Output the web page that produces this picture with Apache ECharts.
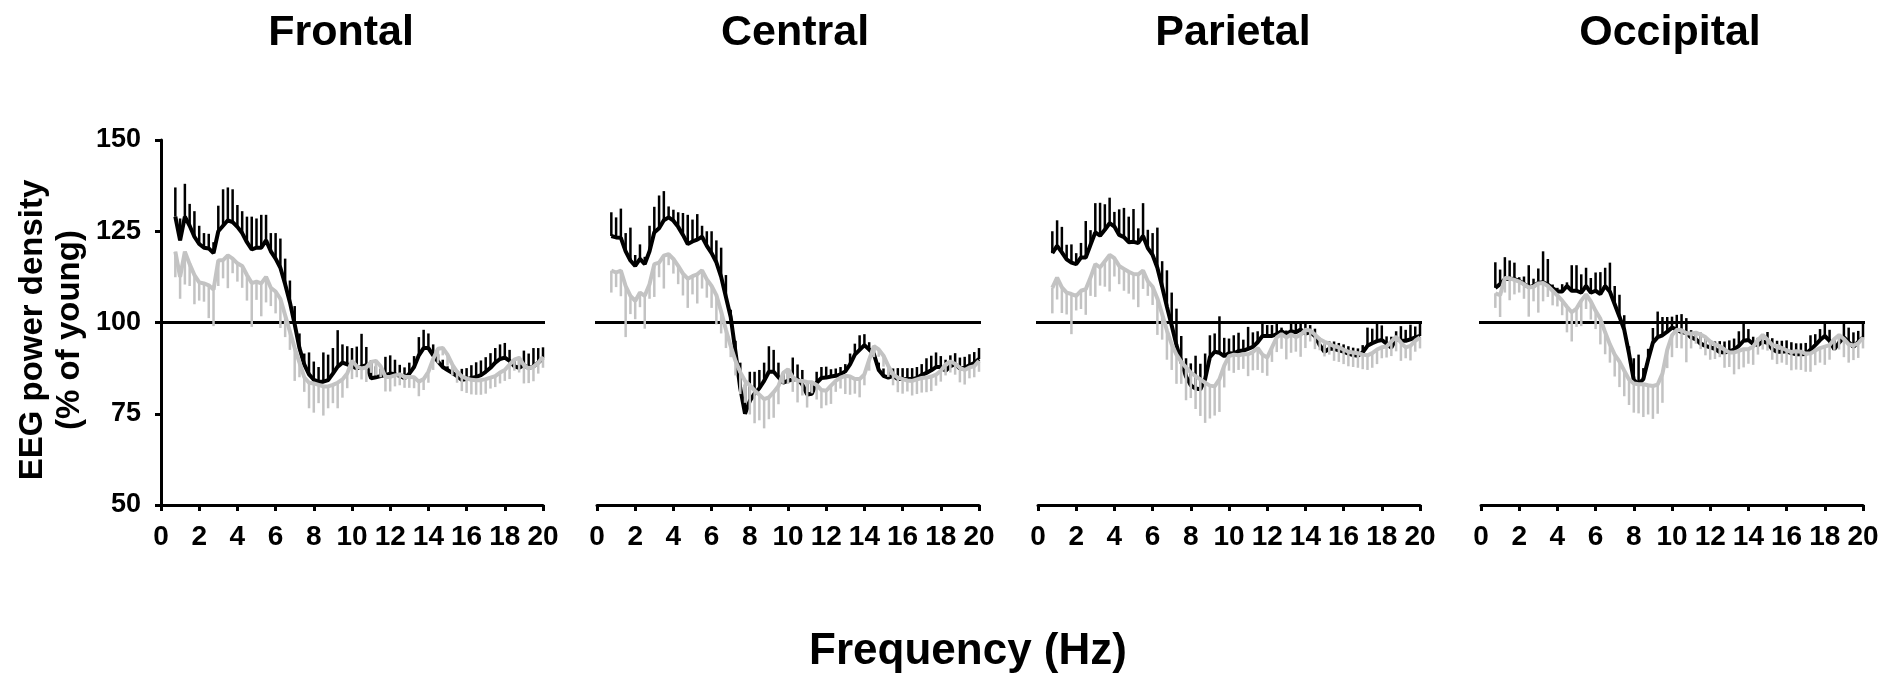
<!DOCTYPE html>
<html>
<head>
<meta charset="utf-8">
<script src="https://cdn.jsdelivr.net/npm/echarts@6.0.0/dist/echarts.min.js"></script>
<style>
html,body{margin:0;padding:0;background:#fff;}
#chart{width:1899px;height:673px;}
</style>
</head>
<body>
<div id="chart"></div>
<script>
// ---------------- DATA ----------------
const freqs = [0.75,
 1,1.25,1.5,1.75, 2,2.25,2.5,2.75, 3,3.25,3.5,3.75, 4,4.25,4.5,4.75,
 5,5.25,5.5,5.75, 6,6.25,6.5,6.75, 7,7.25,7.5,7.75, 8,8.25,8.5,8.75,
 9,9.25,9.5,9.75, 10,10.25,10.5,10.75, 11,11.25,11.5,11.75, 12,12.25,12.5,12.75,
 13,13.25,13.5,13.75, 14,14.25,14.5,14.75, 15,15.25,15.5,15.75, 16,16.25,16.5,16.75,
 17,17.25,17.5,17.75, 18,18.25,18.5,18.75, 19,19.25,19.5,19.75, 20];

const regionNames = ['Frontal', 'Central', 'Parietal', 'Occipital'];
const xTickLabels = ['0','2','4','6','8','10','12','14','16','18','20'];
const yTickLabels = ['50','75','100','125','150'];
const referenceLevel = 100;

// Frontal
const frontalBlack = [129,
 122.5,129,126.5,123.5, 121.5,120.5,120.3,119, 125,126.5,128,127.5, 126.2,124.5,122,120,
 120.5,120.5,122.5,119.5, 117.5,115,110.5,105.5, 99.5,93,88.5,85.8, 84.3,83.8,83.8,84.2,
 86,87.9,89,88.5, 88,87.4,87.9,88.3, 84.7,85,85.3,85.6, 86,85.8,85.4,84.7,
 86,87.8,91,93, 93,91,89.3,87.8, 87,86.2,85.3,84.3, 84.5,84.8,85.1,85.6,
 86.5,87.6,89,90, 90.4,89.5,88,87.6, 88.3,87.5,88,89, 90.2];
const frontalBlackErr = [8,
 6,9,6,7, 5,4,4,3, 7,10,9,9, 6,6,7,9,
 8,9,7,5, 7,8,7,6, 5,4,3,6, 5,4,8,7,
 7,10,5,5, 5,6,9,5, 5,3,2,5, 5,4,3,3,
 3,3,5,5, 4,3,2,2, 1,1,1.5,3, 3,3.5,4,4,
 4,4,4,4, 4,3,2,3, 4,4,5,4, 3];
const frontalGray = [119.4,
 112.5,119.4,116,113, 111,110.7,110.2,109, 117,117.1,118.4,117.5, 116.2,115.5,113,110.8,
 111.2,110.7,112.5,109.5, 108.5,106.5,102,97.5, 93,89,85,83.5, 83.3,82.9,82.5,82.5,
 82.9,83.5,84.4,86, 89.5,88,87.4,87.7, 89.2,89.5,88,85.1, 85.1,85.5,85.8,85.1,
 85.1,85,83.8,84.5, 86.5,90,92.8,93, 91.2,88.5,86.5,85.2, 84.7,84.3,84.2,84.2,
 84.5,84.9,85.3,86.3, 87,88.5,89.8,90.3, 88.3,87.4,87.9,89, 90.6];
const frontalGrayErr = [7,
 6,9,6,8, 5,5,9,10, 7,5,9,4, 5,6,7,12,
 5,9,7,5, 6,8,6,5, 9,4,4,7, 8,5,8,6,
 5,7,5,4, 5,3,3,4, 3,4,3,4, 4,3,3,3,
 3,3,4,3, 3,3,4,2, 3,3,3,4, 4,4,4,4,
 4,3,3,3, 3,4,3,4, 5,4,4,3, 3];

// Central
const centralBlack = [123.7,
 123.3,123.2,119.5,117, 115.5,117.4,116,119.5, 124.7,125.8,128,128.8, 127.9,126.2,124,121.5,
 122.2,122.7,123.5,121, 119,116.5,112.5,107, 101.5,92,82,75, 78.5,80.5,82,84,
 86.5,86.5,85,83.5, 84,84.4,84.5,83, 80.3,80.5,83.5,84.8, 84.9,85.2,85.4,85.8,
 86.6,88.5,91.2,92.5, 93.8,92.6,91.3,87, 85.4,84.9,85.4,84.5, 84.5,84.5,84.5,84.8,
 85.6,86.2,86.9,87.8, 87.8,86.8,88,88.6, 87.4,87.6,88.3,88.9, 90];
const centralBlackErr = [6.5,
 5.5,8,5,9, 3,4,2,7, 7,9,8,3, 3,4,6,8,
 6,7,3,4, 6,6,8,6, 2,3,7,8, 8,6,5,5,
 7,6,4,3, 3,6,4,4, 3,3,3,3, 3,2,2,2,
 2,3,3,4, 3,2,2,2, 2,2,2,3, 3,3,3,3,
 3,4,4,4, 3,3,3,3, 3,3,3,3, 3];
const centralGray = [114.2,
 113.7,114.2,110,107.3, 105.9,108.2,107.3,110.5, 116,116.4,118.3,118.7, 117.4,115.5,113.4,112,
 112.7,113.2,114.3,111.8, 110,107.5,103,98, 93.5,89.5,86.4,84, 82.8,81.4,80.2,79,
 79.5,80.9,82.6,86.2, 87.2,85,84.1,84, 83.7,83.6,82.9,81.5, 81.3,82.7,84,84.9,
 85.4,85.2,84.5,84.5, 85.8,89.8,93.5,92.6, 90.9,88.1,85.8,84.9, 84.5,84.1,84,84.4,
 84.8,84.9,85.2,85.7, 86.8,88.5,89.3,88.7, 87.6,87,87.7,88, 89.5];
const centralGrayErr = [6,
 4,7,14,5, 5,4,9,4, 9,4,9,3, 4,5,6,8,
 5,8,5,5, 6,8,6,5, 3,4,6,6, 8,9,7,8,
 6,7,5,3, 4,4,6,4, 7,3,4,5, 4,5,3,3,
 5,5,4,5, 3,3,3,2, 3,3,3,4, 4,3,4,4,
 4,4,4,3, 3,3,3,3, 4,4,3,3, 3];

// Parietal
const parietalBlack = [119,
 121,119.2,117.3,116.4, 116,117.8,117.8,121.3, 124.7,123.8,125.4,127.2, 126.3,124,123.4,122,
 122.1,121.8,123.7,120.4, 118.5,115,109.8,104.3, 99.2,93.8,89.3,85.2, 82.8,81.9,81.7,84.5,
 90.5,92,91.7,90.8, 91.6,91.5,92.2,92.3, 92.8,93.3,94.6,96.3, 96.3,96.3,96.8,97.6,
 96.8,97.6,97.3,98.1, 97,97.3,96.3,93.8, 92,92.8,92.8,92.4, 92,91.5,91.1,90.9,
 91.8,93.6,94.3,94.9, 95.2,94.2,93.1,95.6, 95,95,95.4,95.9, 96.3];
const parietalBlackErr = [6,
 7,7,4,5, 3,4,10,4, 8,9,7,7, 4,7,8,7,
 9,4,9,5, 6,11,7,10, 9,10,7,5, 6,9,7,7,
 6,5,10,5, 4,5,5,3, 6,4,3,4, 3,3,3,1,
 1,2,3,2, 3,2,2,2, 2,2,2,2, 2,2,2,2,
 2,5,4,5, 4,2,3,2, 4,3,4,3, 4];
const parietalGray = [109.5,
 112.3,109.6,108.2,107.8, 107.3,108.7,109.1,112.3, 116,115.1,116.8,118.5, 117.6,115.5,114.7,113.9,
 113.3,113.2,114.2,111.3, 109.8,106.6,102.3,97.8, 94,91.2,89.2,87.7, 86.3,85.3,84.4,83.5,
 82.7,82.5,84.5,88.2, 90.8,91.2,91,91.3, 91.3,91.9,93,91.2, 90.4,93.2,95.9,96.8,
 95.9,96.7,96,96.6, 98,97.8,96.7,95.4, 94.7,94.2,93.5,93.2, 92.6,92,91.8,91.6,
 91.2,91,91.6,92.6, 93.2,93.4,94.8,96.1, 94.5,93.2,93.6,95, 95.9];
const parietalGrayErr = [7,
 6,7,6,11, 4,5,7,5, 9,5,7,10, 5,5,6,6,
 7,9,5,4, 5,10,7,8, 7,8,6,9, 7,9,10,11,
 9,8,9,6, 4,5,4,4, 6,5,6,5, 5,4,4,4,
 6,5,4,6, 5,3,4,3, 4,3,4,4, 4,4,4,4,
 4,4,4,4, 3,3,4,4, 5,3,4,3, 3];

// Occipital
const occipitalBlack = [109.5,
 110.5,111.9,112,111.9, 111.4,110.6,109.7,110, 110.8,111,110.4,109.4, 108.5,108.5,110,108.7,
 108.7,108.2,110,108.2, 108.7,107.8,110,108.4, 105,101.6,98,91.5, 84.2,83.2,84.5,89.8,
 94.5,96,96.5,97.5, 98.6,98.1,97.3,97.2, 95.9,95.4,94.2,93.6, 93.2,92.8,91.9,91.8,
 92.1,92.6,93.6,95, 95.2,94.1,93.8,94.8, 94.4,92.7,92,92, 92.1,91.6,91.3,91.3,
 91.4,92.5,93.8,95.2, 96.3,95,92.7,94.5, 95.9,94.6,93.3,94.7, 95.9];
const occipitalBlackErr = [7,
 4,6,5,4.5, 1,2,6,2, 4,8.5,7,1, 1,2,1,7,
 7,5,5,4, 5,6,5,8, 5,6,4,2, 6,8,3,3,
 4,7,5,4, 3,4,5,4, 2,2,3,2, 2,2,3,3,
 3,3,4,5, 3,2,2,2, 3,3,3,3, 3,3,3,3,
 3,4,3,3, 4,3,3,2, 4,4,4,3, 4];
const occipitalGray = [108,
 107.5,112.2,112.1,111.7, 111.2,110.5,109.6,109.8, 110.7,110.8,110,108.7, 107.4,106,104.3,102.8,
 103.8,106,107.7,105.8, 103.2,101,97.3,94, 91.2,89.3,86.8,84.4, 83.3,83.1,83.1,82.8,
 82.6,83,86,92.5, 96.5,98,97.9,97.1, 96.9,97.2,96.7,96, 94.8,94,93.5,92.6,
 91.8,91.8,92.2,92.7, 92.7,93.4,95.2,96.6, 95.3,93.8,93.6,93, 92.4,91.9,92.1,92,
 91.5,91.5,92.3,93, 93.4,93.8,95.5,96.6, 95.5,94,93.7,94.3, 95.9];
const occipitalGrayErr = [4,
 6,4,6,4, 3,4,8,4, 8,5,3,4, 3,4,7,8,
 5,7,4,5, 5,7,6,5, 6,7,7,7, 8,8,9,8,
 9,8,8,5, 6,5,5,8, 4,3,4,5, 5,4,3,5,
 4,6,5,5, 4,5,4,4, 3,4,5,4, 4,5,5,5,
 5,5,4,4, 5,4,3,4, 5,5,4,4, 3];

const panelBlack = [frontalBlack, centralBlack, parietalBlack, occipitalBlack];
const panelBlackErr = [frontalBlackErr, centralBlackErr, parietalBlackErr, occipitalBlackErr];
const panelGray = [frontalGray, centralGray, parietalGray, occipitalGray];
const panelGrayErr = [frontalGrayErr, centralGrayErr, parietalGrayErr, occipitalGrayErr];

// ---------------- LAYOUT / STYLE ----------------
const FONT = '"Liberation Sans", Arial, Helvetica, sans-serif';
const BLACK = '#000000';
const GRAY = '#c3c3c3';
const gridLefts = [161, 597, 1038, 1481];
const gridWidth = 382;
const gridTop = 140;
const gridHeight = 365;
const titleCenters = [341, 795, 1233, 1670];

const chart = echarts.init(document.getElementById('chart'), null, {renderer: 'canvas'});

function errRender(dir, color) {
  return function (params, api) {
    const x = api.value(0), m = api.value(1), e = api.value(2);
    const p1 = api.coord([x, m]);
    const p2 = api.coord([x, m + dir * e]);
    return {
      type: 'line',
      shape: {x1: p1[0], y1: p1[1], x2: p2[0], y2: p2[1]},
      style: {stroke: color, lineWidth: 2.5}
    };
  };
}

const grids = [], xAxes = [], yAxes = [], series = [], graphics = [];
for (let p = 0; p < 4; p++) {
  grids.push({left: gridLefts[p], top: gridTop, width: gridWidth, height: gridHeight, containLabel: false});
  xAxes.push({
    type: 'value', gridIndex: p, min: 0, max: 20, interval: 2,
    axisLine: {show: true, onZero: false, lineStyle: {color: BLACK, width: 3}},
    axisTick: {show: true, length: 6, lineStyle: {color: BLACK, width: 3}},
    axisLabel: {show: true, color: BLACK, fontSize: 28, fontWeight: 'bold', fontFamily: FONT, margin: 18,
      formatter: (v) => xTickLabels[Math.round(v / 2)] ?? ''},
    splitLine: {show: false}
  });
  yAxes.push({
    type: 'value', gridIndex: p, min: 50, max: 150, interval: 25,
    show: p === 0,
    axisLine: {show: true, lineStyle: {color: BLACK, width: 3}},
    axisTick: {show: true, length: 6, lineStyle: {color: BLACK, width: 3}},
    axisLabel: {show: true, color: BLACK, fontSize: 27, fontWeight: 'bold', fontFamily: FONT, margin: 20,
      formatter: (v) => yTickLabels[Math.round((v - 50) / 25)] ?? ''},
    splitLine: {show: false}
  });

  // reference line at 100 (extends a little beyond the axis range, as in the original)
  series.push({
    type: 'line', xAxisIndex: p, yAxisIndex: p, clip: false, silent: true,
    data: [[p === 0 ? -0.1 : -0.25, referenceLevel], [20.45, referenceLevel]],
    showSymbol: false, symbol: 'none',
    lineStyle: {color: BLACK, width: 3}, z: 1
  });

  const b = panelBlack[p], be = panelBlackErr[p], g = panelGray[p], ge = panelGrayErr[p];
  series.push({
    type: 'custom', xAxisIndex: p, yAxisIndex: p, renderItem: errRender(1, BLACK),
    data: freqs.map((f, i) => [f, b[i], be[i]]), encode: {x: 0, y: 1}, z: 2, clip: false
  });
  series.push({
    type: 'line', xAxisIndex: p, yAxisIndex: p, name: regionNames[p] + ' black',
    data: freqs.map((f, i) => [f, b[i]]), showSymbol: false, symbol: 'none',
    lineStyle: {color: BLACK, width: 4}, z: 3
  });
  series.push({
    type: 'custom', xAxisIndex: p, yAxisIndex: p, renderItem: errRender(-1, GRAY),
    data: freqs.map((f, i) => [f, g[i], ge[i]]), encode: {x: 0, y: 1}, z: 4, clip: false
  });
  series.push({
    type: 'line', xAxisIndex: p, yAxisIndex: p, name: regionNames[p] + ' gray',
    data: freqs.map((f, i) => [f, g[i]]), showSymbol: false, symbol: 'none',
    lineStyle: {color: GRAY, width: 4}, z: 5
  });

  graphics.push({
    type: 'text', x: titleCenters[p], y: 33,
    style: {text: regionNames[p], fontSize: 43, fontWeight: 'bold', fontFamily: FONT, fill: BLACK,
      align: 'center', verticalAlign: 'middle'}
  });
}

graphics.push({
  type: 'text', x: 968, y: 652,
  style: {text: 'Frequency (Hz)', fontSize: 44, fontWeight: 'bold', fontFamily: FONT, fill: BLACK,
    align: 'center', verticalAlign: 'middle'}
});
graphics.push({
  type: 'text', x: 51, y: 330, rotation: Math.PI / 2,
  style: {text: 'EEG power density\n(% of young)', fontSize: 33, fontWeight: 'bold', fontFamily: FONT,
    fill: BLACK, align: 'center', verticalAlign: 'middle', lineHeight: 37}
});

chart.setOption({
  animation: false,
  backgroundColor: '#ffffff',
  grid: grids,
  xAxis: xAxes,
  yAxis: yAxes,
  series: series,
  graphic: graphics
});
</script>
</body>
</html>
